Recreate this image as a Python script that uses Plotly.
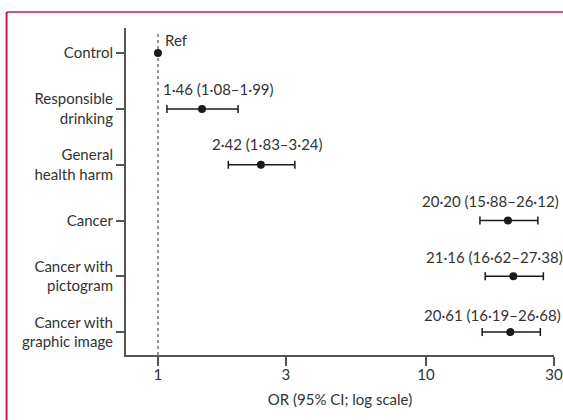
import math
import plotly.graph_objects as go

categories = ["Control", "Responsible<br>drinking", "General<br>health harm", "Cancer",
              "Cancer with<br>pictogram", "Cancer with<br>graphic image"]
odds_ratio = [1.00, 1.46, 2.42, 20.20, 21.16, 20.61]
ci_low = [None, 1.08, 1.83, 15.88, 16.62, 16.19]
ci_high = [None, 1.99, 3.24, 26.12, 27.38, 26.68]
labels = ["Ref", "1·46 (1·08–1·99)", "2·42 (1·83–3·24)", "20·20 (15·88–26·12)",
          "21·16 (16·62–27·38)", "20·61 (16·19–26·68)"]
x_tickvals = [1, 3, 10, 30]
x_ticktext = ["1", "3", "10", "30"]

# label placement styles (pixels)
label_anchor = ["left", "center", "center", "center", "center", "center"]
label_xshift = [5, 16, 7, -17, -19, -18]
label_yshift = [13, 20, 21, 20, 19, 17]

FONT = "Lato"
TXT = "#333333"
AX = "#555555"
RED = "#c8194b"

ypos = list(range(len(categories)))
ci_idx = [i for i in ypos if ci_low[i] is not None]
ref_idx = [i for i in ypos if ci_low[i] is None]

fig = go.Figure()
fig.add_trace(go.Scatter(
    x=[odds_ratio[i] for i in ci_idx], y=[ypos[i] for i in ci_idx], mode="markers",
    marker=dict(color="#1a1a1a", size=8),
    error_x=dict(type="data", symmetric=False,
                 array=[ci_high[i] - odds_ratio[i] for i in ci_idx],
                 arrayminus=[odds_ratio[i] - ci_low[i] for i in ci_idx],
                 color="#1a1a1a", thickness=1.5, width=4),
    showlegend=False, hoverinfo="skip"))
fig.add_trace(go.Scatter(
    x=[odds_ratio[i] for i in ref_idx], y=[ypos[i] for i in ref_idx], mode="markers",
    marker=dict(color="#1a1a1a", size=8), showlegend=False, hoverinfo="skip"))

for i in ypos:
    fig.add_annotation(x=math.log10(odds_ratio[i]), y=ypos[i],
                       xref="x", yref="y", text=labels[i], showarrow=False,
                       xanchor=label_anchor[i], yanchor="middle",
                       xshift=label_xshift[i], yshift=label_yshift[i],
                       font=dict(family=FONT, size=15, color=TXT))

# reference line at OR = 1
fig.add_shape(type="line", xref="x", yref="paper", x0=1, x1=1, y0=0, y1=0.985,
              line=dict(color="#3d5566", width=1.2, dash="3px,3px"), layer="below")

# red frame (top and left)
fig.add_shape(type="line", xref="paper", yref="paper", x0=-0.279, x1=1.025, y0=1.049, y1=1.049,
              line=dict(color=RED, width=1.5))
fig.add_shape(type="line", xref="paper", yref="paper", x0=-0.279, x1=-0.279, y0=1.049, y1=-0.25,
              line=dict(color=RED, width=2))

fig.update_layout(
    width=563, height=420,
    margin=dict(l=126, r=9, t=28, b=65, autoexpand=False),
    paper_bgcolor="white", plot_bgcolor="white",
    font=dict(family=FONT, size=15, color=TXT),
    xaxis=dict(type="log", range=[math.log10(0.76), math.log10(30)],
               tickvals=x_tickvals, ticktext=x_ticktext, automargin=False,
               showline=True, linecolor=AX, linewidth=2, ticks="outside", ticklen=9,
               tickwidth=2, tickcolor=AX, showgrid=False, zeroline=False,
               ticklabelstandoff=-4,
               title=dict(text="OR (95% CI; log scale)", standoff=12,
                          font=dict(family=FONT, size=15, color=TXT)),
               tickfont=dict(family=FONT, size=15, color=TXT)),
    yaxis=dict(range=[5.41, -0.45], tickvals=ypos, ticktext=categories, automargin=False,
               showline=True, linecolor=AX, linewidth=2, ticks="outside", ticklen=8,
               tickwidth=2, tickcolor=AX, showgrid=False, zeroline=False,
               tickfont=dict(family=FONT, size=15, color=TXT)),
)
fig.write_html("out.html")
